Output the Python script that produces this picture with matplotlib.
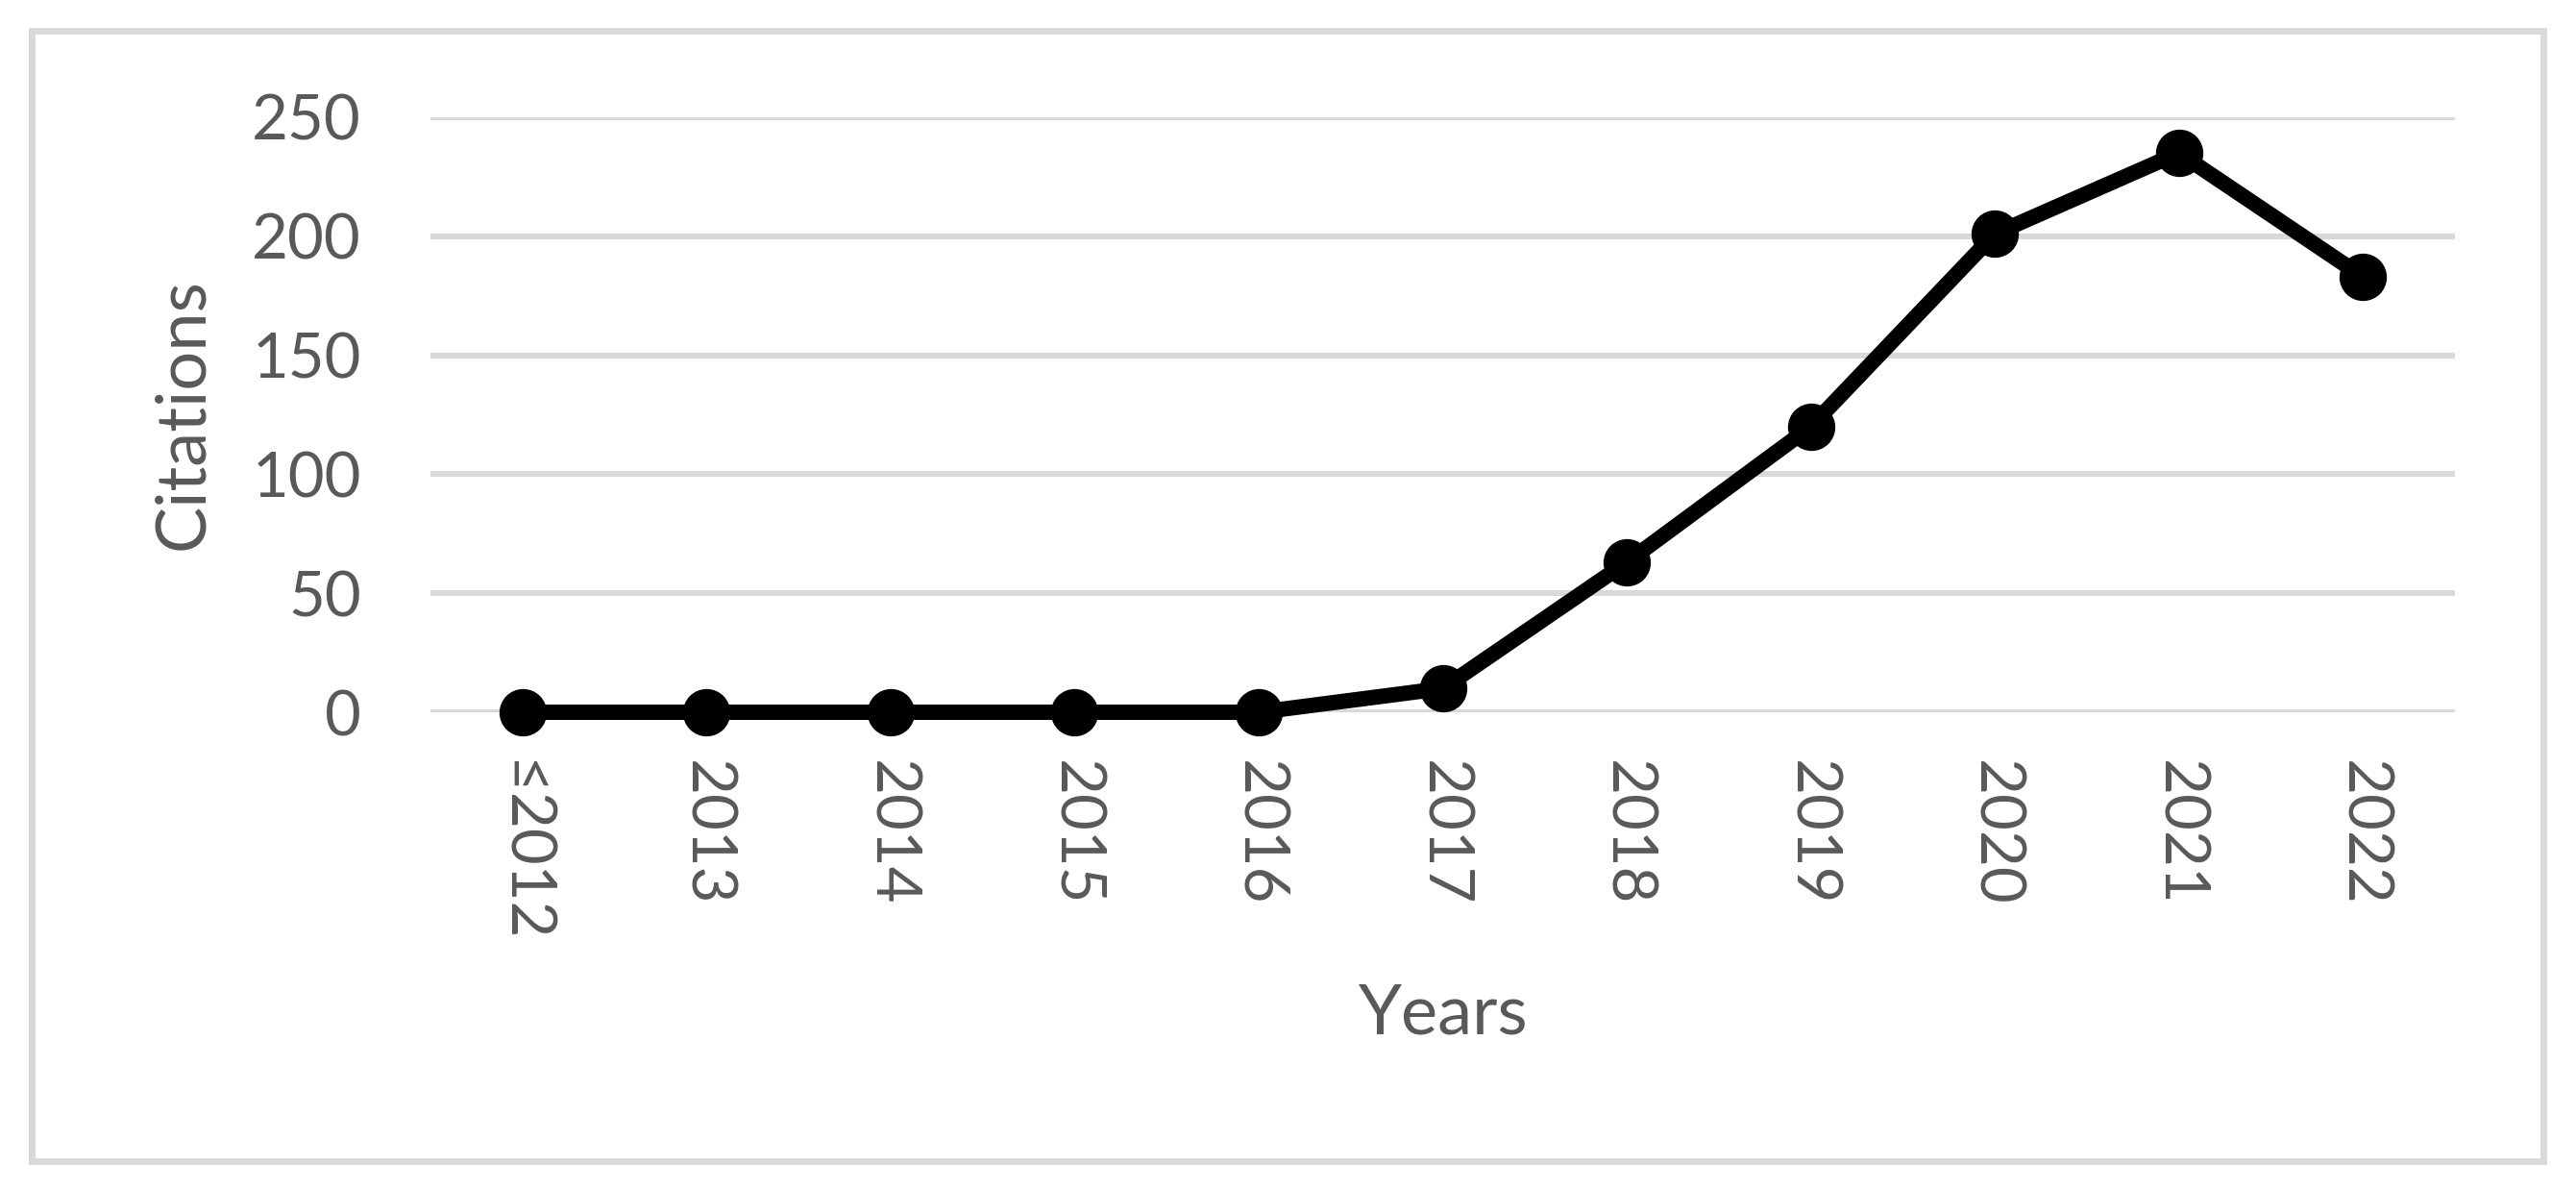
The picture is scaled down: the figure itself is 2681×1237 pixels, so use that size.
import matplotlib
matplotlib.use("Agg")
import matplotlib.pyplot as plt
from matplotlib.patches import Rectangle

years = ["≤2012", "2013", "2014", "2015", "2016", "2017", "2018", "2019", "2020", "2021", "2022"]
citations = [0, 0, 0, 0, 0, 10, 63, 120, 201, 235, 183]
y_ticks = [0, 50, 100, 150, 200, 250]

W, H = 2681, 1237
plt.rcParams['font.family'] = ['Lato', 'DejaVu Sans']
grey = '#595959'

fig = plt.figure(figsize=(W / 100, H / 100), dpi=100)
ax = fig.add_axes([448 / W, 1 - 741 / H, (2555 - 448) / W, (741 - 122) / H])

x = list(range(len(years)))
ax.plot(x, citations, color='black', linewidth=11.5, marker='o', markersize=34.5,
        solid_joinstyle='round', zorder=3, clip_on=False)

ax.set_xlim(-0.5, len(years) - 0.5)
ax.set_ylim(0, 250)
ax.set_yticks(y_ticks)
ax.set_xticks(x)
ax.set_xticklabels(years, rotation=-90, va='top', ha='center')
ax.grid(axis='y', color='#D9D9D9', linewidth=4.3)
ax.set_axisbelow(True)
for s in ax.spines.values():
    s.set_visible(False)
ax.tick_params(axis='x', length=0, pad=36, labelsize=47, labelcolor=grey)
ax.tick_params(axis='y', length=0, pad=52, labelsize=47, labelcolor=grey)

fig.text(1502 / W, 1 - 1055 / H, "Years", ha='center', va='center', fontsize=52, color=grey)
fig.text(191 / W, 1 - 431 / H, "Citations", ha='center', va='center', rotation=90,
         fontsize=52, color=grey)

# outer chart border
fig.patches.append(Rectangle((33 / W, 1 - 1208 / H), (2647 - 33) / W, (1208 - 32) / H,
                             transform=fig.transFigure, fill=False,
                             edgecolor='#D9D9D9', linewidth=5))

fig.savefig("out.png", dpi=100, facecolor='white')
